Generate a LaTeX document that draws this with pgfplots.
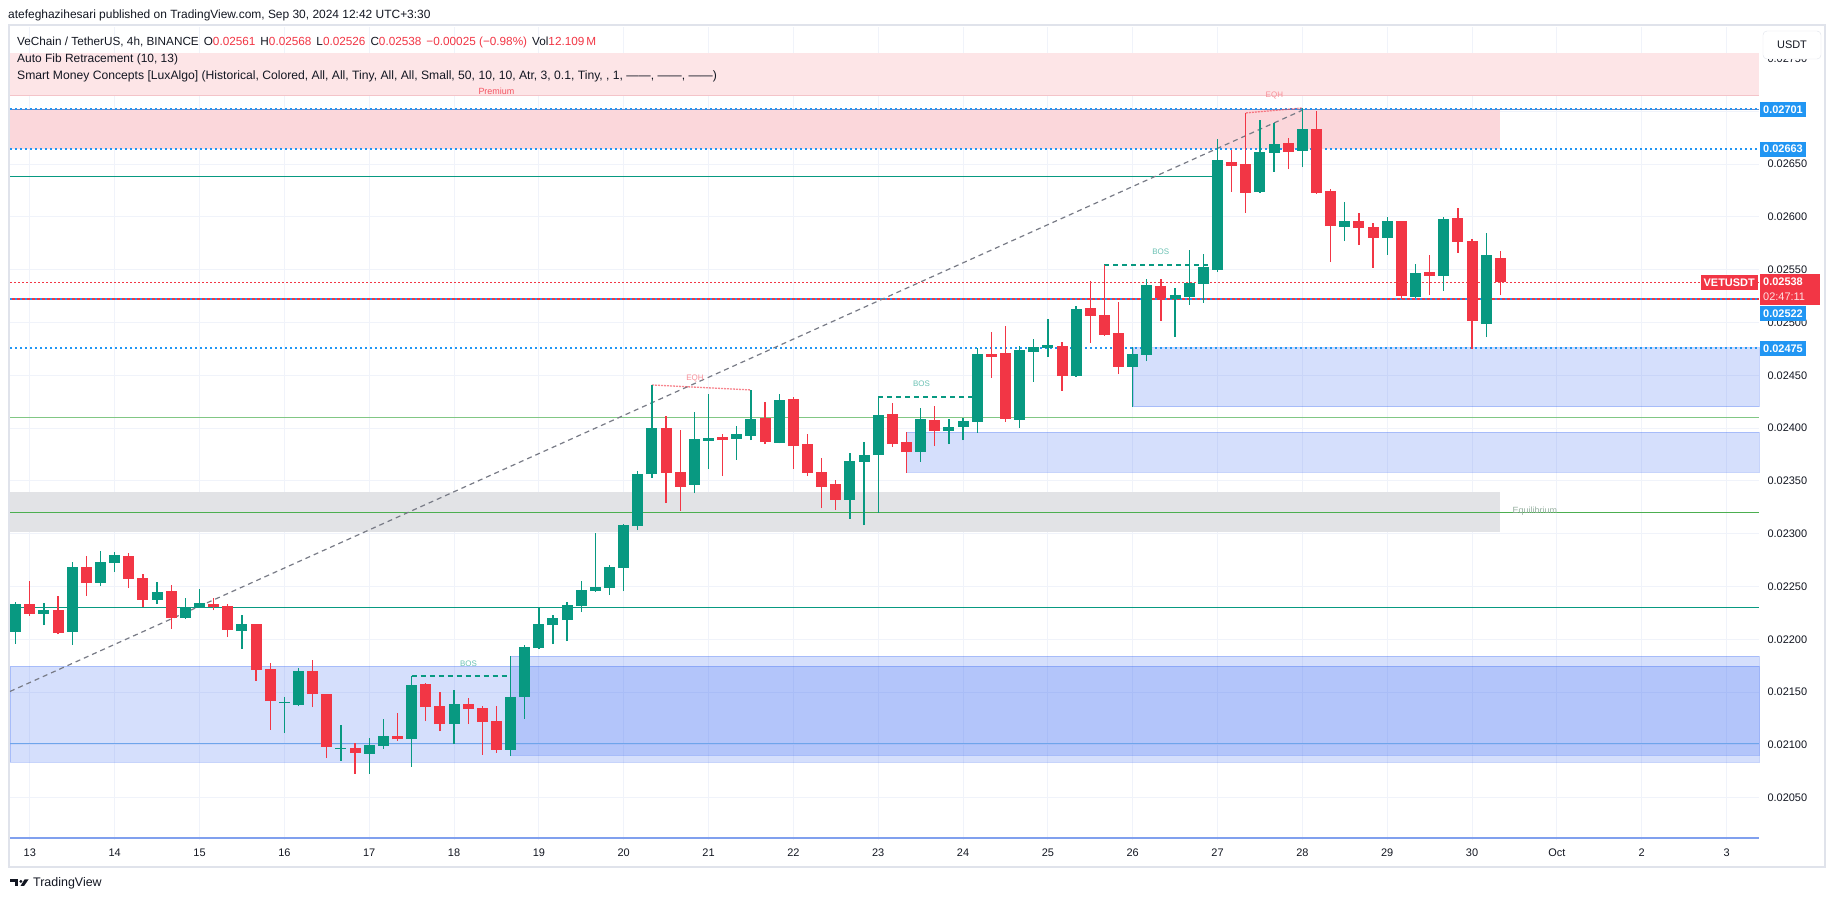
\documentclass[border=0pt]{standalone}
\usepackage{pgfplots}
\pgfplotsset{compat=1.18}
\usepackage{pgfplotstable}
\usepackage{fontspec}
\setmainfont{Liberation Sans}

\definecolor{tvgreen}{RGB}{8,153,129}
\definecolor{tvred}{RGB}{242,54,69}
\definecolor{tvblue}{RGB}{33,150,243}
\definecolor{zoneblue}{RGB}{33,87,243}
\definecolor{gridc}{RGB}{240,243,250}
\definecolor{framec}{RGB}{224,227,235}
\definecolor{tvtext}{RGB}{19,23,34}
\definecolor{pinkA}{RGB}{253,229,231}
\definecolor{pinkB}{RGB}{251,215,219}
\definecolor{pinkline}{RGB}{244,196,201}
\definecolor{eqgray}{RGB}{226,227,230}
\definecolor{fibgray}{RGB}{120,123,134}
\definecolor{lgreen}{RGB}{129,199,132}
\definecolor{mgreen}{RGB}{76,175,80}
\definecolor{midblue}{RGB}{110,165,235}
\definecolor{topline}{RGB}{110,130,190}

% 4h candles of VET/USDT, x = day of September (31 = Oct 1), prices in 1e-5 USDT
\pgfplotstableread{
x o h l c
12.8333 2206.9 2235.3 2195.8 2233.4
13.1667 2224.2 2234.3 2213.5 2227.7
13.5 2206.9 2273.2 2194.9 2268.4
13.8333 2253.3 2283.6 2250.4 2273.2
14.0 2272.2 2282.6 2263.7 2279.8
14.5 2237.2 2254.2 2233.4 2244.8
14.8333 2220.1 2239.1 2219.5 2230.5
15.0 2230.5 2247.6 2230.0 2234.3
15.5 2207.8 2223.0 2190.8 2214.4
16.0 2139.5 2145.3 2111.2 2140.5
16.1667 2137.7 2172.8 2136.8 2169.9
16.6667 2096.0 2118.7 2085.0 2097.0
17.0 2091.6 2106.1 2072.7 2099.8
17.1667 2099.2 2124.1 2096.3 2108.3
17.5 2105.5 2165.2 2079.3 2156.6
18.0 2119.7 2151.9 2101.1 2138.6
18.6667 2095.4 2184.1 2089.7 2145.3
18.8333 2145.3 2194.5 2124.7 2192.6
19.0 2191.7 2229.6 2191.0 2214.4
19.1667 2213.5 2222.9 2195.5 2220.1
19.3333 2218.2 2235.2 2198.3 2232.4
19.5 2231.5 2255.1 2225.8 2246.6
19.6667 2245.7 2300.6 2245.0 2249.5
19.8333 2248.5 2270.3 2241.9 2268.4
20.0 2267.4 2308.7 2245.7 2308.2
20.1667 2307.2 2359.3 2303.4 2356.5
20.3333 2356.5 2440.8 2353.0 2400.1
20.8333 2346.1 2415.2 2338.5 2389.7
21.0 2387.8 2432.3 2361.2 2390.6
21.3333 2389.7 2402.0 2369.8 2394.4
21.5 2392.5 2436.1 2388.7 2408.6
21.8333 2385.9 2432.3 2385.4 2426.6
22.6667 2331.9 2376.4 2313.9 2368.8
22.8333 2367.9 2386.8 2308.2 2374.5
23.0 2374.5 2429.4 2319.9 2412.4
23.5 2377.3 2419.0 2367.9 2408.6
23.8333 2397.2 2408.6 2384.9 2401.0
24.0 2401.3 2409.9 2388.7 2406.7
24.1667 2406.1 2475.5 2395.7 2470.2
24.6667 2407.7 2477.7 2400.4 2474.0
24.8333 2472.1 2484.4 2444.0 2476.8
25.0 2475.9 2503.3 2467.6 2478.7
25.3333 2449.6 2515.6 2448.7 2512.8
26.0 2457.9 2476.8 2420.3 2470.2
26.1667 2469.2 2541.2 2463.5 2535.5
26.5 2522.3 2532.7 2486.3 2526.0
26.6667 2524.2 2568.7 2516.6 2537.4
26.8333 2536.5 2564.9 2518.5 2552.6
27.0 2549.7 2673.8 2547.8 2653.9
27.5 2623.5 2691.7 2623.0 2661.4
27.6667 2660.5 2688.9 2642.5 2669.0
28.0 2662.4 2703.1 2647.2 2683.2
28.5 2590.4 2614.1 2577.1 2596.0
29.0 2580.0 2599.8 2563.9 2596.0
29.3333 2524.1 2555.3 2523.6 2546.8
29.6667 2544.0 2599.8 2529.8 2597.9
30.1667 2498.5 2584.7 2486.2 2563.9
}\upcandles

\pgfplotstableread{
x o h l c
13.0 2233.4 2255.2 2222.5 2224.2
13.3333 2227.7 2241.0 2205.0 2205.9
13.6667 2268.4 2278.9 2241.0 2253.3
14.1667 2278.9 2281.7 2248.5 2257.1
14.3333 2258.0 2261.8 2230.5 2237.2
14.6667 2245.7 2251.4 2209.7 2220.1
15.1667 2233.4 2239.1 2227.7 2230.5
15.3333 2231.5 2233.4 2202.1 2208.8
15.6667 2214.4 2214.9 2160.5 2170.9
15.8333 2171.8 2177.5 2114.1 2141.5
16.3333 2169.9 2180.3 2135.8 2148.1
16.5 2148.1 2148.6 2087.5 2098.0
16.8333 2097.3 2101.4 2072.7 2092.5
17.3333 2108.3 2130.1 2103.9 2105.5
17.6667 2157.6 2158.5 2122.5 2135.8
17.8333 2136.7 2150.0 2113.1 2119.7
18.1667 2138.6 2144.3 2119.7 2133.9
18.3333 2134.9 2136.7 2090.7 2121.6
18.5 2122.5 2136.7 2092.5 2095.4
20.5 2400.1 2411.4 2329.0 2357.5
20.6667 2358.4 2398.2 2321.5 2344.2
21.1667 2391.5 2394.4 2354.6 2388.7
21.6667 2409.5 2424.7 2384.9 2386.8
22.0 2427.5 2429.4 2361.2 2383.0
22.1667 2384.9 2394.4 2354.6 2357.5
22.3333 2358.4 2371.7 2324.3 2344.2
22.5 2347.0 2350.8 2322.4 2331.9
23.1667 2413.3 2423.7 2382.1 2384.9
23.3333 2386.8 2396.3 2357.5 2377.3
23.6667 2407.6 2420.9 2383.0 2397.2
24.3333 2470.2 2491.0 2447.8 2467.6
24.5 2471.1 2496.7 2406.1 2408.6
25.1667 2477.8 2481.5 2435.5 2449.6
25.5 2513.7 2539.3 2480.6 2506.5
25.6667 2507.1 2554.5 2487.5 2488.2
25.8333 2490.1 2519.4 2451.2 2457.9
26.3333 2534.6 2541.2 2501.4 2523.2
27.1667 2652.0 2663.4 2623.6 2648.2
27.3333 2650.1 2698.4 2603.7 2622.6
27.8333 2669.9 2674.7 2645.3 2661.4
28.1667 2683.2 2700.2 2622.0 2622.6
28.3333 2624.5 2626.4 2557.2 2591.3
28.6667 2596.0 2603.6 2573.3 2589.4
28.8333 2590.4 2594.2 2551.6 2580.0
29.1667 2596.0 2596.5 2522.2 2525.0
29.5 2547.8 2563.9 2526.0 2544.0
29.8333 2598.9 2608.4 2565.8 2576.2
30.0 2577.1 2579.0 2475.1 2501.3
30.3333 2561 2568 2526 2538
}\downcandles

\begin{document}
\begin{tikzpicture}[x=1bp,y=1bp]
\useasboundingbox (0,0) rectangle (1835,903);
\fill[white] (0,0) rectangle (1835,903);
\draw[framec, line width=1.5bp] (9,36) rectangle (1825,878);

\begin{axis}[
  at={(10bp,63bp)}, anchor=south west,
  scale only axis, width=1749bp, height=813bp,
  xmin=12.7661, xmax=33.383, ymin=2009.94, ymax=2779.8,
  clip=false,
  axis line style={draw=none},
  major tick length=0pt,
  grid=major,
  major grid style={draw=gridc, line width=1bp},
  xtick={13,...,33},
  xticklabels={13,14,15,16,17,18,19,20,21,22,23,24,25,26,27,28,29,30,Oct,2,3},
  ytick={2050,2100,...,2750},
  yticklabels={0.02050,0.02100,0.02150,0.02200,0.02250,0.02300,0.02350,0.02400,0.02450,0.02500,0.02550,0.02600,0.02650,,0.02750},
  yticklabel pos=right,
  ticklabel style={font=\fontsize{11}{13}\selectfont, text=tvtext},
  yticklabel style={anchor=west, xshift=5bp},
  xticklabel style={yshift=-5bp},
]
% zones
\addplot[fill=pinkA, draw=none] coordinates {(12.7661,2715.2) (33.383,2715.2) (33.383,2754.9) (12.7661,2754.9)} -- cycle;
\addplot[pinkline, line width=1bp] coordinates {(12.7661,2715.2) (33.383,2715.2)};
\addplot[fill=pinkB, draw=none] coordinates {(12.7661,2664.3) (30.3333,2664.3) (30.3333,2702.2) (12.7661,2702.2)} -- cycle;
\addplot[fill=eqgray, draw=none] coordinates {(12.7661,2301.6) (30.3333,2301.6) (30.3333,2339.5) (12.7661,2339.5)} -- cycle;
\addplot[fill=zoneblue, fill opacity=0.19, draw=zoneblue, draw opacity=0.25] coordinates {(12.7661,2083.4) (33.383,2083.4) (33.383,2174.4) (12.7661,2174.4)} -- cycle;
\addplot[fill=zoneblue, fill opacity=0.19, draw=zoneblue, draw opacity=0.25] coordinates {(18.6667,2090.0) (33.383,2090.0) (33.383,2183.8) (18.6667,2183.8)} -- cycle;
\addplot[fill=zoneblue, fill opacity=0.19, draw=zoneblue, draw opacity=0.25] coordinates {(23.3333,2358.1) (33.383,2358.1) (33.383,2396.0) (23.3333,2396.0)} -- cycle;
\addplot[fill=zoneblue, fill opacity=0.19, draw=zoneblue, draw opacity=0.25] coordinates {(26.0,2420.3) (33.383,2420.3) (33.383,2476.2) (26.0,2476.2)} -- cycle;
% horizontal levels
\addplot[midblue, line width=1.5bp] coordinates {(12.7661,2101.4) (33.383,2101.4)};
\addplot[tvgreen, line width=1.3bp] coordinates {(12.7661,2230.2) (33.383,2230.2)};
\addplot[mgreen, line width=1.3bp] coordinates {(12.7661,2320.2) (33.383,2320.2)};
\addplot[lgreen, line width=1.3bp] coordinates {(12.7661,2410.2) (33.383,2410.2)};
\addplot[tvgreen, line width=1.3bp] coordinates {(12.7661,2638.4) (27.0,2638.4)};
\addplot[tvred, line width=1.2bp] coordinates {(12.7661,2522.3) (33.383,2522.3)};
\addplot[tvred, line width=1bp, dash pattern=on 1.5bp off 2.5bp] coordinates {(12.7661,2538.0) (33.383,2538.0)};
\addplot[topline, line width=1.2bp] coordinates {(12.7661,2702.0) (33.383,2702.0)};
\addplot[tvblue, line width=2bp, dash pattern=on 2bp off 3bp] coordinates {(12.7661,2702.0) (33.383,2702.0)};
\addplot[tvblue, line width=2bp, dash pattern=on 2bp off 3bp] coordinates {(12.7661,2664.3) (33.383,2664.3)};
\addplot[tvblue, line width=2bp, dash pattern=on 2bp off 3bp] coordinates {(12.7661,2522.3) (33.383,2522.3)};
\addplot[tvblue, line width=2bp, dash pattern=on 2bp off 3bp] coordinates {(12.7661,2476.2) (33.383,2476.2)};
\addplot[color={rgb,255:red,128;green,160;blue,238}, line width=2.5bp] coordinates {(12.7661,2011.8) (33.383,2011.8)};
% fib trend line
\addplot[fibgray, line width=1.2bp, dash pattern=on 5bp off 4bp] coordinates {(12.7661,2150.6) (28.0,2701.0)};
% structure lines
\addplot[tvgreen, line width=1.3bp, dash pattern=on 5bp off 4bp] coordinates {(17.5,2165.2) (18.6667,2165.2)};
\addplot[tvgreen, line width=1.3bp, dash pattern=on 5bp off 4bp] coordinates {(23.0,2429.3) (24.1,2429.3)};
\addplot[tvgreen, line width=1.3bp, dash pattern=on 5bp off 4bp] coordinates {(25.6667,2554.5) (26.9,2554.5)};
\addplot[tvred, opacity=0.6, line width=1.3bp, dash pattern=on 2bp off 1bp] coordinates {(20.3333,2440.8) (21.5,2436.1)};
\addplot[tvred, opacity=0.6, line width=1.3bp, dash pattern=on 2bp off 1bp] coordinates {(27.3333,2698.4) (28.0,2703.1)};
% candles: wicks then bodies
\addplot[draw=none, mark=none, error bars/.cd, y dir=plus, y explicit, error mark=none,
  error bar style={draw=tvgreen, line width=1.3bp}]
  table[x=x, y=l, y error plus expr=\thisrow{h}-\thisrow{l}] {\upcandles};
\addplot[draw=none, mark=none, error bars/.cd, y dir=plus, y explicit, error mark=none,
  error bar style={draw=tvgreen, line width=11bp}]
  table[x=x, y=o, y error plus expr=\thisrow{c}-\thisrow{o}] {\upcandles};
\addplot[draw=none, mark=none, error bars/.cd, y dir=plus, y explicit, error mark=none,
  error bar style={draw=tvred, line width=1.3bp}]
  table[x=x, y=l, y error plus expr=\thisrow{h}-\thisrow{l}] {\downcandles};
\addplot[draw=none, mark=none, error bars/.cd, y dir=plus, y explicit, error mark=none,
  error bar style={draw=tvred, line width=11bp}]
  table[x=x, y=c, y error plus expr=\thisrow{o}-\thisrow{c}] {\downcandles};
% labels
\node[font=\fontsize{8}{9}\selectfont, text=tvgreen!60] at (axis cs:18.17,2177) {BOS};
\node[font=\fontsize{8}{9}\selectfont, text=tvgreen!60] at (axis cs:23.51,2441.5) {BOS};
\node[font=\fontsize{8}{9}\selectfont, text=tvgreen!60] at (axis cs:26.33,2566.5) {BOS};
\node[font=\fontsize{8}{9}\selectfont, text=tvred!55] at (axis cs:20.84,2446.7) {EQH};
\node[font=\fontsize{8}{9}\selectfont, text=tvred!55] at (axis cs:27.67,2714.5) {EQH};
\node[font=\fontsize{9}{10}\selectfont, text=tvred!85] at (axis cs:18.5,2718.5) {Premium};
\node[font=\fontsize{9}{10}\selectfont, text={rgb,255:red,150;green,175;blue,160}] at (axis cs:30.74,2321.5) {Equilibrium};
\end{axis}

% header and legend
\node[anchor=west, inner sep=0pt, font=\fontsize{12}{14}\selectfont, text=tvtext] at (8,888)
  {atefeghazihesari published on TradingView.com, Sep 30, 2024 12:42 UTC+3:30};
\node[anchor=west, inner sep=0pt, font=\fontsize{11.8}{14}\selectfont, text=tvtext] at (17,861)
  {VeChain / TetherUS, 4h, BINANCE\hspace{5bp}O\textcolor{tvred}{0.02561}\hspace{5bp}H\textcolor{tvred}{0.02568}\hspace{5bp}L\textcolor{tvred}{0.02526}\hspace{5bp}C\textcolor{tvred}{0.02538}\hspace{5bp}\textcolor{tvred}{−0.00025 (−0.98\%)}\hspace{5bp}Vol\textcolor{tvred}{12.109\,M}};
\node[anchor=west, inner sep=0pt, font=\fontsize{12}{14}\selectfont, text=tvtext] at (17,844)
  {Auto Fib Retracement (10, 13)};
\node[anchor=west, inner sep=0pt, font=\fontsize{12.2}{14}\selectfont, text=tvtext] at (17,827)
  {Smart Money Concepts [LuxAlgo] (Historical, Colored, All, All, Tiny, All, All, Small, 50, 10, 10, Atr, 3, 0.1, Tiny, , 1, ——, ——, ——)};

% price scale labels
\draw[framec, fill=white, rounded corners=4bp] (1763,844) rectangle (1821,872);
\node[font=\fontsize{11}{13}\selectfont, text=tvtext] at (1792,858) {USDT};
\tikzset{plab/.style={anchor=west, inner xsep=3bp, inner ysep=0pt, minimum height=15bp, text=white, font=\bfseries\fontsize{11}{13}\selectfont}}
\node[plab, fill=tvblue] at (1760,793) {0.02701};
\node[plab, fill=tvblue] at (1760,753.8) {0.02663};
\node[plab, fill=tvblue] at (1760,589.3) {0.02522};
\node[plab, fill=tvblue] at (1760,554.3) {0.02475};
\fill[tvred] (1760,598) rectangle (1820,629);
\node[anchor=west, inner sep=0pt, text=white, font=\bfseries\fontsize{11}{13}\selectfont] at (1763,621) {0.02538};
\node[anchor=west, inner sep=0pt, text=white!85!tvred, font=\fontsize{11}{13}\selectfont] at (1763,606) {02:47:11};
\node[anchor=east, inner xsep=3bp, inner ysep=0pt, minimum height=15bp, fill=tvred, text=white, font=\bfseries\fontsize{11}{13}\selectfont] at (1758,620) {VETUSDT};

% footer logo
\fill[tvtext] (10,20.5) rectangle (18,23.5);
\fill[tvtext] (14.5,17) rectangle (18,23.5);
\fill[tvtext] (20.8,21.6) circle (1.6);
\fill[tvtext] (24.5,23.5) -- (28.5,23.5) -- (24,17) -- (20.5,17) -- cycle;
\node[anchor=west, inner sep=0pt, font=\fontsize{12.5}{14}\selectfont, text=tvtext] at (33,19.5) {TradingView};
\end{tikzpicture}
\end{document}
